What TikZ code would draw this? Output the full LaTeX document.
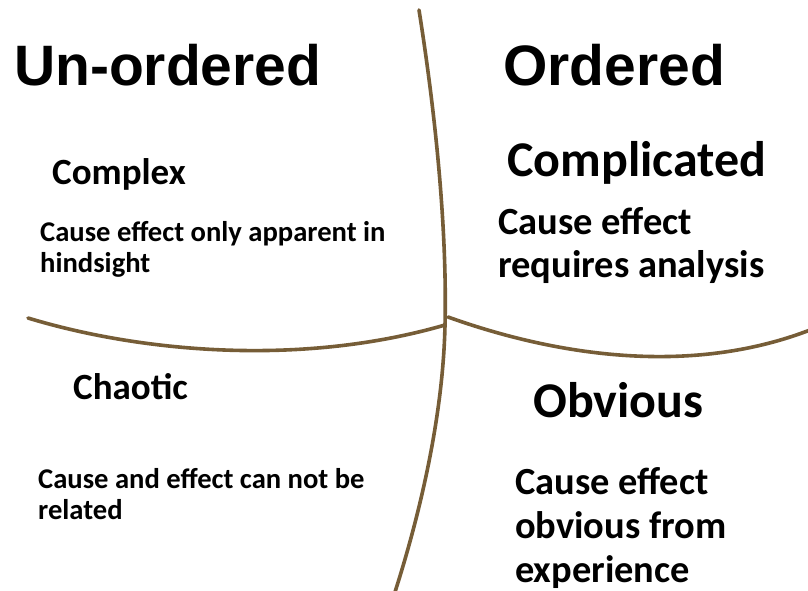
\documentclass[tikz,border=0pt]{standalone}
\usepackage{fontspec}
\newfontfamily\headfont{Liberation Sans}
\newfontfamily\bodyfont{Carlito}
\definecolor{divider}{RGB}{118,93,55}
\begin{document}
\begin{tikzpicture}[x=1pt,y=-1pt,
  heading/.style={anchor=base west,inner sep=0pt,font=\headfont\bfseries\fontsize{57}{60}\selectfont},
  domain/.style={anchor=base west,inner sep=0pt,font=\bodyfont\bfseries\fontsize{#1}{#1}\selectfont},
  note/.style={anchor=base west,inner sep=0pt,font=\bodyfont\bfseries\fontsize{#1}{#1}\selectfont},
  divline/.style={draw=divider,line width=3.6pt,line cap=round}]
\useasboundingbox[fill=white] (0,0) rectangle (808,590);

% dividing curves
\coordinate (top) at (419,10);
\coordinate (mid) at (445,325);
\coordinate (rmid) at (448,317);
\coordinate (bot) at (395,592);
\coordinate (lft) at (28,318);
\coordinate (rgt) at (810,330);
\draw[divline] (top) .. controls (438,130) and (447,240) .. (mid)
                     .. controls (443,420) and (418,520) .. (bot);
\draw[divline] (lft) .. controls (140,352) and (300,367) .. (mid);
\draw[divline] (rmid) .. controls (540,350) and (680,380) .. (rgt);

% column headings
\node[heading] (unord) at (14,85) {Un-ordered};
\node[heading] (ord) at (503,85) {Ordered};

% complex
\node[domain=37] (cx) at (52,184) {Complex};
\node[note=28.6] (cx1) at (40,241) {Cause effect only apparent in};
\node[note=28.6] (cx2) at (40,272) {hindsight};

% complicated
\node[domain=50] (cd) at (507,176) {Complicated};
\node[note=38.5] (cd1) at (498,234) {Cause effect};
\node[note=38.5] (cd2) at (498,277) {requires analysis};

% chaotic
\node[domain=37] (ch) at (73,399) {Chaotic};
\node[note=28.6] (ch1) at (38,488) {Cause and effect can not be};
\node[note=28.6] (ch2) at (38,519) {related};

% obvious
\node[domain=50] (ob) at (533,417) {Obvious};
\node[note=38.4] (ob1) at (515,494) {Cause effect};
\node[note=38.4] (ob2) at (515,538) {obvious from};
\node[note=38.4] (ob3) at (515,582) {experience};
\end{tikzpicture}
\end{document}
